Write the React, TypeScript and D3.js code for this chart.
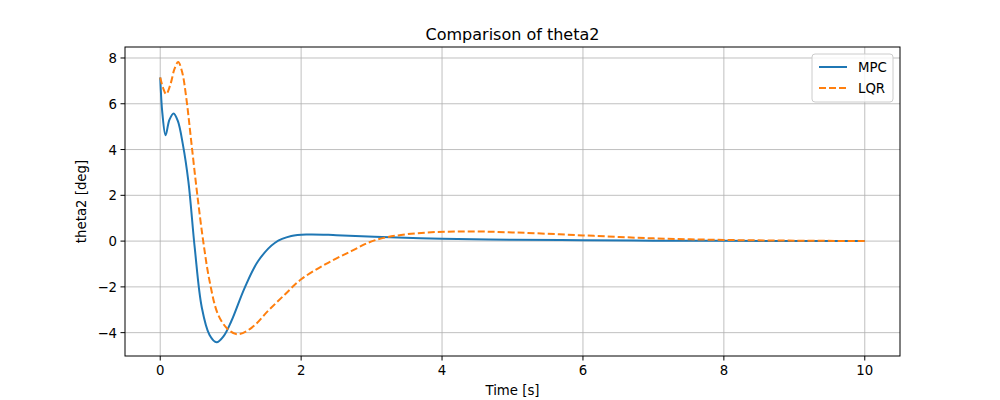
import React, { useEffect, useRef } from 'react';
import * as d3 from 'd3';

const mpcT = [0, 0.03, 0.076, 0.13, 0.19, 0.25, 0.32, 0.4, 0.49, 0.59, 0.7, 0.8, 0.9, 1.01, 1.2, 1.39, 1.63, 1.86, 2.1, 2.5, 3.04, 4, 5, 6, 7, 8, 9, 10];
const mpcY = [7.15, 5.6, 4.62, 5.3, 5.58, 5.25, 4.25, 2.6, -0.3, -2.9, -4.1, -4.42, -4.15, -3.49, -2.03, -0.87, -0.07, 0.22, 0.29, 0.26, 0.19, 0.1, 0.06, 0.04, 0.02, 0.01, 0.005, 0];
const lqrT = [0, 0.04, 0.085, 0.15, 0.2, 0.255, 0.31, 0.37, 0.44, 0.52, 0.61, 0.7, 0.82, 0.96, 1.1, 1.3, 1.53, 1.77, 2.0, 2.34, 2.71, 3.04, 3.5, 4.2, 5, 6, 7, 8, 9, 10];
const lqrY = [7.15, 6.7, 6.42, 6.9, 7.5, 7.82, 7.4, 6.25, 4.36, 2.18, 0, -1.74, -3.2, -3.85, -4.07, -3.78, -3.05, -2.33, -1.67, -1.02, -0.44, 0.03, 0.3, 0.42, 0.38, 0.25, 0.12, 0.05, 0.02, 0];
const xTicks = [0, 2, 4, 6, 8, 10];
const yTicks = [-4, -2, 0, 2, 4, 6, 8];

export default function App() {
  const ref = useRef<SVGSVGElement>(null);
  useEffect(() => {
    const svg = d3.select(ref.current);
    svg.selectAll('*').remove();
    const left = 125, right = 900, top = 47, bottom = 356;
    const x = d3.scaleLinear().domain([-0.5, 10.5]).range([left, right]);
    const y = d3.scaleLinear().domain([-5.02, 8.48]).range([bottom, top]);
    const font = 'DejaVu Sans, sans-serif';
    svg.append('rect').attr('width', 1000).attr('height', 400).attr('fill', '#fff');

    const grid = svg.append('g').attr('stroke', '#b0b0b0').attr('stroke-width', 0.8);
    xTicks.forEach(t => grid.append('line').attr('x1', x(t)).attr('x2', x(t)).attr('y1', top).attr('y2', bottom));
    yTicks.forEach(t => grid.append('line').attr('y1', y(t)).attr('y2', y(t)).attr('x1', left).attr('x2', right));

    const line = d3.line<[number, number]>().x(d => x(d[0])).y(d => y(d[1])).curve(d3.curveCatmullRom.alpha(0.5));
    svg.append('path').datum(d3.zip(mpcT, mpcY) as [number, number][]).attr('fill', 'none')
      .attr('stroke', '#1f77b4').attr('stroke-width', 2).attr('d', line);
    svg.append('path').datum(d3.zip(lqrT, lqrY) as [number, number][]).attr('fill', 'none')
      .attr('stroke', '#ff7f0e').attr('stroke-width', 2).attr('stroke-dasharray', '7,3').attr('d', line);

    svg.append('rect').attr('x', left).attr('y', top).attr('width', right - left).attr('height', bottom - top)
      .attr('fill', 'none').attr('stroke', '#000').attr('stroke-width', 1);

    const ax = svg.append('g').attr('font-family', font).attr('font-size', 13.3).attr('fill', '#000');
    xTicks.forEach(t => {
      ax.append('line').attr('x1', x(t)).attr('x2', x(t)).attr('y1', bottom).attr('y2', bottom + 4.5).attr('stroke', '#000');
      ax.append('text').attr('x', x(t)).attr('y', bottom + 19).attr('text-anchor', 'middle').text(t);
    });
    yTicks.forEach(t => {
      ax.append('line').attr('x1', left - 4.5).attr('x2', left).attr('y1', y(t)).attr('y2', y(t)).attr('stroke', '#000');
      ax.append('text').attr('x', left - 8).attr('y', y(t) + 5).attr('text-anchor', 'end').text(t < 0 ? `\u2212${-t}` : t);
    });
    ax.append('text').attr('x', (left + right) / 2).attr('y', 395).attr('text-anchor', 'middle').text('Time [s]');
    ax.append('text').attr('transform', `translate(86,${(top + bottom) / 2}) rotate(-90)`).attr('text-anchor', 'middle').text('theta2 [deg]');
    svg.append('text').attr('x', (left + right) / 2).attr('y', 40).attr('text-anchor', 'middle')
      .attr('font-family', font).attr('font-size', 16).text('Comparison of theta2');

    const lg = svg.append('g').attr('transform', 'translate(812,54)');
    lg.append('rect').attr('width', 81).attr('height', 48).attr('rx', 3).attr('fill', '#fff').attr('fill-opacity', 0.8).attr('stroke', '#ccc');
    [{ l: 'MPC', c: '#1f77b4', d: null }, { l: 'LQR', c: '#ff7f0e', d: '7,3' }].forEach((it, i) => {
      const yy = 13 + i * 21;
      lg.append('line').attr('x1', 7).attr('x2', 35).attr('y1', yy).attr('y2', yy).attr('stroke', it.c).attr('stroke-width', 2).attr('stroke-dasharray', it.d);
      lg.append('text').attr('x', 46).attr('y', yy + 5).attr('font-family', font).attr('font-size', 13.3).text(it.l);
    });
  }, []);
  return <svg ref={ref} width={1000} height={400} style={{ position: 'absolute', left: 0, top: 0 }} />;
}
